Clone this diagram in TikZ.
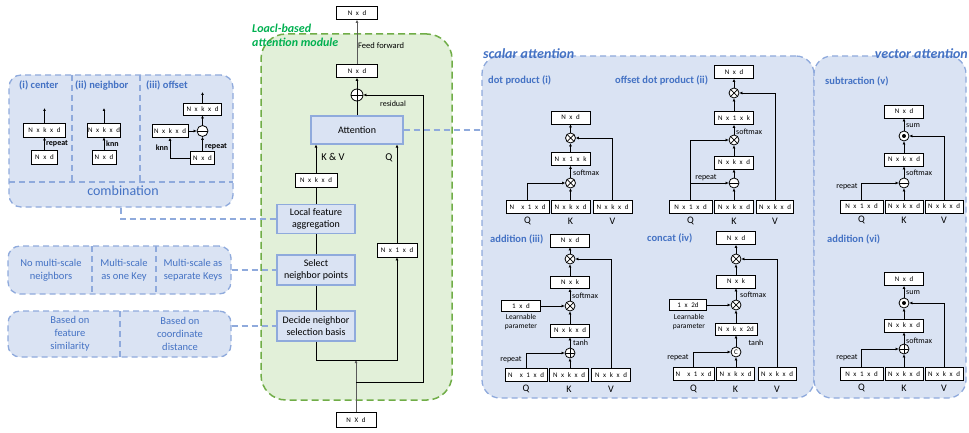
\documentclass[tikz,border=0pt]{standalone}
\usepackage{fontspec}
\setmainfont{Carlito}
\newfontfamily\boxfont[WordSpace=2.3]{Carlito}
\usetikzlibrary{arrows.meta}
\definecolor{pfill}{HTML}{DAE3F3}
\definecolor{pline}{HTML}{8FAADC}
\definecolor{tblue}{HTML}{4472C4}
\definecolor{gfill}{HTML}{E2F0D9}
\definecolor{gline}{HTML}{70AD47}
\definecolor{gtext}{HTML}{00B050}
\definecolor{gray6}{HTML}{595959}
\tikzset{
 tb/.style={draw=black, line width=0.9pt, fill=white, minimum width=39pt, minimum height=13pt, inner sep=0pt, font=\boxfont\fontsize{7}{7.5}\selectfont},
 bb/.style={draw=pline, fill=pfill, line width=1.1pt, minimum width=78pt, inner sep=0pt, align=center, font=\fontsize{10}{12}\selectfont},
 op/.style={circle, draw=black, line width=0.8pt, minimum size=10pt, inner sep=0pt, fill=white},
 otimesop/.style={op, path picture={\draw[black, line width=0.7pt] (path picture bounding box.north west) -- (path picture bounding box.south east) (path picture bounding box.north east) -- (path picture bounding box.south west);}},
 oplusop/.style={op, path picture={\draw[black, line width=0.7pt] (path picture bounding box.north) -- (path picture bounding box.south) (path picture bounding box.west) -- (path picture bounding box.east);}},
 ominusop/.style={op, path picture={\draw[black, line width=0.7pt] (path picture bounding box.west) -- (path picture bounding box.east);}},
 odotop/.style={op, path picture={\fill[black] (path picture bounding box.center) circle (2pt);}},
 ocop/.style={op, font=\fontsize{7}{7}\selectfont},
 arr/.style={-{Latex[length=3pt,width=3pt]}, line width=0.7pt},
 ln/.style={line width=0.7pt},
 gln/.style={draw=gray6},
 lab/.style={font=\fontsize{8}{8.5}\selectfont, inner sep=0pt},
 blab/.style={font=\bfseries\fontsize{8}{8.5}\selectfont, inner sep=0pt},
 qkv/.style={font=\fontsize{10}{10}\selectfont, inner sep=0pt},
 subt/.style={font=\bfseries\fontsize{10.5}{12}\selectfont, text=tblue, anchor=west, inner sep=0pt},
 panel/.style={draw=pline, fill=pfill, line width=1.3pt, dash pattern=on 6pt off 4pt, rounded corners=12pt, inner sep=0pt},
 pdash/.style={draw=pline, line width=1.3pt, dash pattern=on 6pt off 4pt},
 ptext/.style={text=tblue, align=center, font=\fontsize{10.5}{13}\selectfont},
}
\begin{document}
\begin{tikzpicture}[x=1pt,y=-1pt]
\useasboundingbox (0,0) rectangle (969,433);

% ---------------- left panels ----------------
\node[panel, minimum width=224pt, minimum height=132pt] (comb) at (121,141) {};
\draw[pdash] (9,182) -- (233,182);
\draw[pdash] (72,75) -- (72,182);
\draw[pdash] (140,75) -- (140,182);
\node[font=\fontsize{14}{15}\selectfont, text=tblue] (combt) at (123,191) {combination};
\node[subt] (c1t) at (19,85) {(i) center};
\node[subt] (c2t) at (75,85) {(ii) neighbor};
\node[subt] (c3t) at (146,85) {(iii) offset};

% (i) center
\node[tb, minimum width=42pt, minimum height=14pt] (g_o) at (44.5,130) {N x k x d};
\node[tb, minimum width=26pt, minimum height=14pt] (g_i) at (44.5,157) {N x d};
\coordinate (g_t) at (44.5,108);
\draw[arr] (g_i.north) -- (g_o.south);
\draw[arr] (g_o.north) -- (g_t);
\node[blab, anchor=west] (g_r) at (46,144) {repeat};
% (ii) neighbor
\node[tb, minimum width=33pt, minimum height=14pt] (h_o) at (104,130) {N x k x d};
\node[tb, minimum width=24pt, minimum height=14pt] (h_i) at (104,157) {N x d};
\coordinate (h_t) at (104,108);
\draw[arr] (h_i.north) -- (h_o.south);
\draw[arr] (h_o.north) -- (h_t);
\node[blab, anchor=west] (h_r) at (106,144) {knn};
% (iii) offset
\node[tb, minimum width=38pt, minimum height=12pt] (k_o) at (202.5,109) {N x k x d};
\node[ominusop, minimum size=11pt] (k_sub) at (202.5,131) {};
\node[tb, minimum width=36pt, minimum height=13pt] (k_n) at (170,131) {N x k x d};
\node[tb, minimum width=24pt, minimum height=13pt] (k_i) at (202.5,158) {N x d};
\coordinate (k_t) at (202.5,92);
\draw[arr] (k_i.north) -- (k_sub.south);
\draw[arr] (k_n.east) -- (k_sub.west);
\draw[arr] (k_sub.north) -- (k_o.south);
\draw[arr] (k_o.north) -- (k_t);
\draw[arr] (k_i.west) -| (k_n.south);
\node[blab, anchor=west] (k_r) at (205,147) {repeat};
\node[blab] (k_k) at (162,148) {knn};

% multi-scale panel
\node[panel, minimum width=223pt, minimum height=48pt] (ms) at (119.5,270) {};
\draw[pdash] (92,246) -- (92,294);
\draw[pdash] (156,246) -- (156,294);
\node[ptext] (ms1) at (51,270) {No multi-scale\\neighbors};
\node[ptext] (ms2) at (124,270) {Multi-scale\\as one Key};
\node[ptext] (ms3) at (193,270) {Multi-scale as\\separate Keys};

% neighbor basis panel
\node[panel, minimum width=223pt, minimum height=46pt] (nb) at (119.5,334) {};
\draw[pdash] (120,311) -- (120,357);
\node[ptext] (nb1) at (70,334) {Based on\\feature\\similarity};
\node[ptext] (nb2) at (180,334) {Based on\\coordinate\\distance};

% ---------------- green module ----------------
\node[draw=gline, fill=gfill, line width=1.5pt, dash pattern=on 7pt off 4pt, rounded corners=25pt, minimum width=191pt, minimum height=366pt, inner sep=0pt] (green) at (356.5,217) {};
\node[anchor=west, align=left, font=\bfseries\itshape\fontsize{12}{14}\selectfont, text=gtext, inner sep=0pt] (gtitle) at (252,35) {Loacl-based\\attention module};

\node[tb, minimum width=41pt] (topNd) at (357,13) {N x d};
\node[tb, minimum width=41pt] (midNd) at (357,71) {N x d};
\node[oplusop, minimum size=12pt] (res) at (357,95) {};
\node[bb, minimum width=92pt, minimum height=28pt] (att) at (357,130) {Attention};
\node[tb, minimum width=42pt, minimum height=14pt] (nkkd) at (316,180) {N x k x d};
\node[bb, minimum height=29pt] (lfa) at (316,219) {Local feature\\aggregation};
\node[bb, minimum height=30pt] (snp) at (316,270) {Select\\neighbor points};
\node[bb, minimum height=30pt] (dns) at (316,326) {Decide neighbor\\selection basis};
\node[tb, minimum width=40pt, minimum height=14pt] (n1d) at (397,250) {N x 1 x d};
\node[tb, minimum width=40pt, minimum height=15pt] (botNd) at (356,420) {N X d};
\node[lab, anchor=west, font=\fontsize{8.5}{9}\selectfont] (ffl) at (358,46) {Feed forward};
\node[lab] (resl) at (393,104) {residual};
\node[qkv, font=\fontsize{10.5}{11}\selectfont] (kvl) at (333,157) {K \& V};
\node[qkv, font=\fontsize{10.5}{11}\selectfont] (ql) at (389,158) {Q};

\coordinate (j1) at (356,360);
\coordinate (j2) at (356,382);
\coordinate (rr) at (423,382);
\draw[arr, gln] (botNd.north) -- (j1);
\draw[arr] (dns.south) |- (n1d.south |- j1) -- (n1d.south);
\draw[arr] (j2) -- (rr) |- (res.east);
\draw[ln] (dns.north) -- (snp.south);
\draw[ln] (snp.north) -- (lfa.south);
\draw[ln] (lfa.north) -- (nkkd.south);
\draw[arr] (nkkd.north) -- (nkkd.north |- att.south);
\draw[arr] (n1d.north) -- (n1d.north |- att.south);
\draw[ln] (att.north) -- (res.south);
\draw[arr] (res.north) -- (midNd.south);
\draw[arr, gln] (midNd.north) -- (topNd.south);

% ---------------- right panels ----------------
\node[panel, rounded corners=18pt, minimum width=332pt, minimum height=342pt] (scal) at (648,227) {};
\node[panel, rounded corners=18pt, minimum width=152pt, minimum height=342pt] (vect) at (890,227) {};
\node[anchor=west, font=\bfseries\itshape\fontsize{14}{15}\selectfont, text=tblue, inner sep=0pt] (stitle) at (483,54) {scalar attention};
\node[anchor=east, font=\bfseries\itshape\fontsize{14}{15}\selectfont, text=tblue, inner sep=0pt] (vtitle) at (968,54) {vector attention};

% dashed connectors
\draw[pdash] (att.east) -- (att.east -| scal.west);
\draw[pdash] (comb.south) |- (lfa.west);
\draw[pdash] (ms.east) -- (snp.west);
\draw[pdash] (nb.east |- dns.west) -- (dns.west);

% (i) dot product
\node[subt] (t1) at (488,80) {dot product (i)};
\node[tb] (a_o) at (570.5,117.5) {N x d};
\node[otimesop] (a_m2) at (570.5,138) {};
\node[tb] (a_s) at (570.5,159) {N x 1 x k};
\node[otimesop] (a_m1) at (570.5,183) {};
\node[lab, anchor=west] (a_sm) at (573,173) {softmax};
\node[tb, minimum width=43pt] (a_q) at (527.5,207) {N\ \ x 1 x d};
\node[tb] (a_k) at (570.5,207) {N x k x d};
\node[tb] (a_v) at (612.5,207) {N x k x d};
\node[qkv] (a_ql) at (527.5,221) {Q};
\node[qkv] (a_kl) at (570.5,221) {K};
\node[qkv] (a_vl) at (612.5,221) {V};
\draw[arr] (a_q.north) |- (a_m1.west);
\draw[arr] (a_k.north) -- (a_m1.south);
\draw[arr] (a_m1.north) -- (a_s.south);
\draw[arr] (a_s.north) -- (a_m2.south);
\draw[arr] (a_m2.north) -- (a_o.south);
\draw[arr] (a_v.north) |- (a_m2.east);

% (ii) offset dot product
\node[subt] (t2) at (615,80) {offset dot product (ii)};
\node[tb] (b_o) at (734,72) {N x d};
\node[otimesop] (b_m2) at (734,93) {};
\node[tb] (b_s) at (734,118) {N x 1 x k};
\node[otimesop] (b_m1) at (734,140) {};
\node[lab, anchor=west] (b_sm) at (736,132) {softmax};
\node[tb] (b_f) at (734,162.5) {N x k x d};
\node[ominusop] (b_sub) at (734,183) {};
\node[lab] (b_r) at (706,178) {repeat};
\node[tb, minimum width=43pt] (b_q) at (690.5,207) {N x 1 x d};
\node[tb] (b_k) at (734,207) {N x k x d};
\node[tb, minimum width=37pt] (b_v) at (775,207) {N x k x d};
\node[qkv] (b_ql) at (690.5,221) {Q};
\node[qkv] (b_kl) at (734,221) {K};
\node[qkv] (b_vl) at (775,221) {V};
\draw[arr] (b_q.north) |- (b_m1.west);
\draw[arr] (b_q.north |- b_sub.west) -- (b_sub.west);
\draw[arr] (b_k.north) -- (b_sub.south);
\draw[arr] (b_sub.north) -- (b_f.south);
\draw[arr] (b_f.north) -- (b_m1.south);
\draw[arr] (b_m1.north) -- (b_s.south);
\draw[arr] (b_s.north) -- (b_m2.south);
\draw[arr] (b_m2.north) -- (b_o.south);
\draw[arr] (b_v.north) |- (b_m2.east);

% (iii) addition
\node[subt] (t3) at (490,239) {addition (iii)};
\node[tb] (c_o) at (570,240.5) {N x d};
\node[otimesop] (c_m2) at (570,259) {};
\node[tb, minimum height=12pt] (c_s) at (570,282.5) {N x k};
\node[otimesop] (c_m1) at (570,306) {};
\node[lab, anchor=west] (c_sm) at (572,296) {softmax};
\node[tb, minimum height=11pt] (c_p) at (521,306) {1 x d};
\node[lab, align=center, font=\fontsize{7.5}{8.3}\selectfont] (c_pl) at (521,322) {Learnable\\parameter};
\node[tb] (c_f) at (570,330.5) {N x k x d};
\node[lab, anchor=west] (c_th) at (573,343) {tanh};
\node[oplusop] (c_add) at (570,353) {};
\node[lab] (c_r) at (511,360) {repeat};
\node[tb, minimum width=42pt] (c_q) at (526,375) {N\ \ x 1 x d};
\node[tb] (c_k) at (569,375) {N x k x d};
\node[tb] (c_v) at (611,375) {N x k x d};
\node[qkv] (c_ql) at (526,389) {Q};
\node[qkv] (c_kl) at (569,389) {K};
\node[qkv] (c_vl) at (611,389) {V};
\draw[arr] (c_q.north) |- (c_add.west);
\draw[arr] (c_k.north -| c_add.south) -- (c_add.south);
\draw[arr] (c_add.north) -- (c_f.south);
\draw[arr] (c_f.north) -- (c_m1.south);
\draw[arr] (c_p.east) -- (c_m1.west);
\draw[arr] (c_m1.north) -- (c_s.south);
\draw[arr] (c_s.north) -- (c_m2.south);
\draw[arr] (c_m2.north) -- (c_o.south);
\draw[arr] (c_v.north) |- (c_m2.east);

% (iv) concat
\node[subt] (t4) at (647,238) {concat (iv)};
\node[tb] (d_o) at (736,238) {N x d};
\node[otimesop] (d_m2) at (736,259) {};
\node[tb] (d_s) at (736,281.5) {N x k};
\node[otimesop] (d_m1) at (736,305) {};
\node[lab, anchor=west] (d_sm) at (740,295) {softmax};
\node[tb, minimum width=37pt, minimum height=11pt] (d_p) at (688,305) {1 x 2d};
\node[lab, align=center, font=\fontsize{7.5}{8.3}\selectfont] (d_pl) at (689,322) {Learnable\\parameter};
\node[tb, minimum width=42pt, minimum height=12pt] (d_f) at (736,329) {N x k x 2d};
\node[lab] (d_th) at (756,343) {tanh};
\node[ocop] (d_c) at (736,352) {C};
\node[lab] (d_r) at (678,358) {repeat};
\node[tb, minimum width=41pt] (d_q) at (693.5,374) {N\ \ x 1 x d};
\node[tb, minimum width=38pt] (d_k) at (735.5,374) {N x k x d};
\node[tb, minimum width=38pt] (d_v) at (777,374) {N x k x d};
\node[qkv] (d_ql) at (693.5,389) {Q};
\node[qkv] (d_kl) at (735.5,389) {K};
\node[qkv] (d_vl) at (777,389) {V};
\draw[arr] (d_q.north) |- (d_c.west);
\draw[arr] (d_k.north -| d_c.south) -- (d_c.south);
\draw[arr] (d_c.north) -- (d_f.south);
\draw[arr] (d_f.north) -- (d_m1.south);
\draw[arr] (d_p.east) -- (d_m1.west);
\draw[arr] (d_m1.north) -- (d_s.south);
\draw[arr] (d_s.north) -- (d_m2.south);
\draw[arr] (d_m2.north) -- (d_o.south);
\draw[arr] (d_v.north) |- (d_m2.east);

% (v) subtraction
\node[subt] (t5) at (825,81) {subtraction (v)};
\node[tb] (e_o) at (904,111.5) {N x d};
\node[odotop] (e_m) at (904,136) {};
\node[lab, anchor=west] (e_sum) at (906,126) {sum};
\node[tb] (e_f) at (904,159.5) {N x k x d};
\node[lab, anchor=west] (e_sm) at (906,173) {softmax};
\node[ominusop] (e_sub) at (904,183) {};
\node[lab] (e_r) at (847,187) {repeat};
\node[tb, minimum width=43pt] (e_q) at (861.5,206.5) {N x 1 x d};
\node[tb, minimum width=38pt] (e_k) at (904,206.5) {N x k x d};
\node[tb, minimum width=38pt] (e_v) at (944,206.5) {N x k x d};
\node[qkv] (e_ql) at (861.5,220) {Q};
\node[qkv] (e_kl) at (904,220) {K};
\node[qkv] (e_vl) at (944,220) {V};
\draw[arr] (e_q.north) |- (e_sub.west);
\draw[arr] (e_k.north) -- (e_sub.south);
\draw[arr] (e_sub.north) -- (e_f.south);
\draw[arr] (e_f.north) -- (e_m.south);
\draw[arr] (e_m.north) -- (e_o.south);
\draw[arr] (e_v.north) |- (e_m.east);

% (vi) addition
\node[subt] (t6) at (827,239) {addition (vi)};
\node[tb] (f_o) at (904,279) {N x d};
\node[odotop] (f_m) at (904,303) {};
\node[lab, anchor=west] (f_sum) at (906,293) {sum};
\node[tb] (f_f) at (904,325.5) {N x k x d};
\node[lab, anchor=west] (f_sm) at (906,341) {softmax};
\node[oplusop] (f_add) at (904,349) {};
\node[lab] (f_r) at (847,358) {repeat};
\node[tb, minimum width=43pt] (f_q) at (861.5,374) {N x 1 x d};
\node[tb, minimum width=38pt] (f_k) at (904,374) {N x k x d};
\node[tb, minimum width=38pt] (f_v) at (944,374) {N x k x d};
\node[qkv] (f_ql) at (861.5,388) {Q};
\node[qkv] (f_kl) at (904,388) {K};
\node[qkv] (f_vl) at (944,388) {V};
\draw[arr] (f_q.north) |- (f_add.west);
\draw[arr] (f_k.north) -- (f_add.south);
\draw[arr] (f_add.north) -- (f_f.south);
\draw[arr] (f_f.north) -- (f_m.south);
\draw[arr] (f_m.north) -- (f_o.south);
\draw[arr] (f_v.north) |- (f_m.east);
\end{tikzpicture}
\end{document}
